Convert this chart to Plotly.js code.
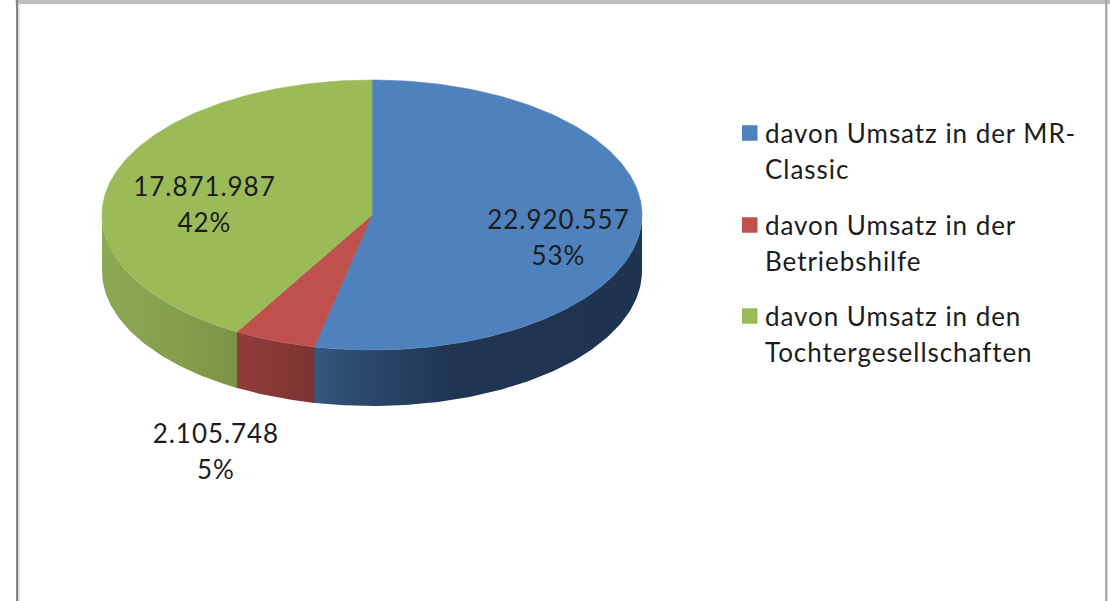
<!DOCTYPE html>
<html>
<head>
<meta charset="utf-8">
<script src="https://cdn.plot.ly/plotly-3.0.1.min.js"></script>
<style>
html,body{margin:0;padding:0;background:#fff}
#chart{width:1110px;height:601px}
#chart text{letter-spacing:0.95px}
</style>
</head>
<body>
<div id="chart"></div>
<script>
// Umsatz split, as a tilted pie with a raised rim
const categories = [
  ['davon Umsatz in der MR-', 'Classic'],
  ['davon Umsatz in der', 'Betriebshilfe'],
  ['davon Umsatz in den', 'Tochtergesellschaften']
];
const revenue = [22920557, 2105748, 17871987];
const topColors = ['#4f81bd', '#c0504d', '#9bbb59'];
const wallScales = [
  [[0, '#35597f'], [0.12, '#2c4b6f'], [0.42, '#1f3552'], [1, '#1e3350']],
  [[0, '#913c3b'], [1, '#7d3331']],
  [[0, '#8da853'], [0.6, '#849e4c'], [1, '#7a9345']]
];

// Page geometry, in pixels
const W = 1110, H = 601;
const centerX = 372, centerY = 215, radiusX = 270, radiusY = 135, rimDepth = 56;
const depth = rimDepth / radiusY;

// Label placement, in pixels
const labelFont = {family: 'Lato, Carlito, sans-serif', size: 26, color: '#1c1c1c'};
const legendFont = {family: 'Lato, Carlito, sans-serif', size: 26, color: '#1c1c1c'};
const valueLabelPos = [[558, 219], [216, 433], [204, 186]];
const lineGap = 36;
const legendRows = [133, 225, 316];
const legendTextX = 763, swatchX = 742, swatchSize = 15.5;

const total = revenue.reduce((a, b) => a + b, 0);
const dotted = v => String(v).replace(/\B(?=(\d{3})+$)/g, '.');
const px = x => x / W;
const py = y => 1 - y / H;

// Point on the unit circle, angle in degrees clockwise from 12 o'clock
const rim = deg => [Math.sin(deg * Math.PI / 180), Math.cos(deg * Math.PI / 180)];

function arc(from, to) {
  const pts = [];
  const n = Math.max(2, Math.ceil(Math.abs(to - from)));
  for (let i = 0; i <= n; i++) pts.push(rim(from + (to - from) * i / n));
  return pts;
}

const walls = [], tops = [];
let start = 0;
revenue.forEach((value, i) => {
  const end = start + value / total * 360;
  const top = [[0, 0], ...arc(start, end), [0, 0]];
  tops.push({
    type: 'scatter', mode: 'lines', x: top.map(p => p[0]), y: top.map(p => p[1]),
    fill: 'toself', fillcolor: topColors[i],
    line: {color: topColors[i], width: 0.6}, hoverinfo: 'skip', showlegend: false
  });
  // only the front half of the rim faces the viewer; each piece runs slightly
  // under the next one so no seam shows between them
  const a = Math.max(start, 90), b = Math.min(end + 0.4, 270);
  if (b > a) {
    const edge = arc(a, b);
    const wall = [...edge, ...edge.slice().reverse().map(p => [p[0], p[1] - depth]), edge[0]];
    walls.push({
      type: 'scatter', mode: 'lines', x: wall.map(p => p[0]), y: wall.map(p => p[1]),
      fill: 'toself',
      fillgradient: {type: 'horizontal', colorscale: wallScales[i]},
      line: {width: 0, color: 'rgba(0,0,0,0)'}, hoverinfo: 'skip', showlegend: false
    });
  }
  start = end;
});

// Value and share next to each slice
const annotations = [];
const addText = (text, x, y, anchor, font) => annotations.push({
  text, x: px(x), y: py(y), xref: 'paper', yref: 'paper',
  xanchor: anchor, align: anchor, yanchor: 'middle', showarrow: false, font
});
revenue.forEach((value, i) => {
  const [x, y] = valueLabelPos[i];
  addText(dotted(value), x, y, 'center', labelFont);
  addText(Math.round(value / total * 100) + '%', x, y + lineGap, 'center', labelFont);
});

// Legend: colour square and two text lines per category
const rect = (x0, y0, x1, y1, color) => ({
  type: 'rect', xref: 'paper', yref: 'paper', x0: px(x0), x1: px(x1), y0: py(y0), y1: py(y1),
  fillcolor: color, line: {width: 0}
});
const shapes = [];
categories.forEach((lines, i) => {
  const y = legendRows[i];
  shapes.push(rect(swatchX, y - swatchSize / 2, swatchX + swatchSize, y + swatchSize / 2, topColors[i]));
  lines.forEach((line, k) => addText(line, legendTextX, y + k * lineGap, 'left', legendFont));
});

// Window frame around the chart area
shapes.push(
  rect(15.5, 0, W, 4, '#bdbdbd'),
  rect(16, 0, 18, H, '#858585'),
  rect(18, 4, 19.5, H, '#d4d4d4'),
  rect(1105, 0, 1107.5, H, '#ababab')
);

const layout = {
  width: W, height: H,
  margin: {l: 0, r: 0, t: 0, b: 0},
  paper_bgcolor: '#fff', plot_bgcolor: '#fff',
  showlegend: false,
  xaxis: {visible: false, fixedrange: true,
    range: [-centerX / radiusX, (W - centerX) / radiusX]},
  yaxis: {visible: false, fixedrange: true,
    range: [-(H - centerY) / radiusY, centerY / radiusY]},
  shapes, annotations
};

Plotly.newPlot('chart', [...walls, ...tops], layout, {displayModeBar: false, staticPlot: true});
</script>
</body>
</html>
